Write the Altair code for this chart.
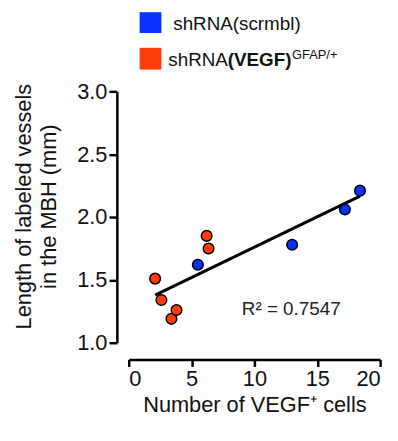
import altair as alt
import pandas as pd

# Data
scr_x = [5.5, 13.0, 17.2, 18.4]
scr_y = [1.62, 1.78, 2.06, 2.21]
vegf_x = [2.1, 2.6, 3.4, 3.8, 6.2, 6.35]
vegf_y = [1.51, 1.34, 1.19, 1.26, 1.85, 1.75]
groups = ["shRNA(scrmbl)", "shRNA(VEGF)GFAP/+"]
colors = ["#0A32FF", "#FF3C0A"]
r2_text = "R\u00b2 = 0.7547"

df = pd.DataFrame({
    "x": scr_x + vegf_x,
    "y": scr_y + vegf_y,
    "group": [groups[0]] * len(scr_x) + [groups[1]] * len(vegf_x),
})

FONT = "Liberation Sans"

xs = alt.Scale(domain=[0, 20], nice=False)
ys = alt.Scale(domain=[1, 3], nice=False)

x_axis = alt.Axis(
    values=[0, 5, 10, 15, 20], offset=17, tickSize=7, labelPadding=2,
    domainWidth=2.5, tickWidth=2.5, domainColor="black", tickColor="black",
    labelFontSize=22, labelColor="#111", labelFont=FONT, grid=False,
    title="Number of VEGF\u207a cells", titleFontSize=22, titleFont=FONT,
    titleFontWeight="normal", titleColor="#111", titleY=53, titleBaseline="alphabetic",
)
y_axis = alt.Axis(
    values=[1.0, 1.5, 2.0, 2.5, 3.0], format=".1f", offset=12, tickSize=8, labelPadding=2,
    domainWidth=2.5, tickWidth=2.5, domainColor="black", tickColor="black",
    labelFontSize=22, labelColor="#111", labelFont=FONT, grid=False,
    title=["Length of labeled vessels", "in the MBH (mm)"], titleFontSize=22,
    titleFont=FONT, titleFontWeight="normal", titleColor="#111", titleLineHeight=25,
    titleX=-82, titleY=116, titleAngle=270, titleAlign="center", titleBaseline="bottom",
)

base = alt.Chart(df)

reg = base.transform_regression("x", "y").mark_line(color="black", strokeWidth=3).encode(
    x=alt.X("x:Q", scale=xs, axis=x_axis),
    y=alt.Y("y:Q", scale=ys, axis=y_axis),
)

pts = base.mark_circle(size=115, opacity=1, stroke="black", strokeWidth=1.5).encode(
    x=alt.X("x:Q", scale=xs),
    y=alt.Y("y:Q", scale=ys),
    color=alt.Color("group:N", scale=alt.Scale(domain=groups, range=colors), legend=None),
)

r2 = alt.Chart(pd.DataFrame({"x": [9.0], "y": [1.22], "t": [r2_text]})).mark_text(
    align="left", baseline="alphabetic", fontSize=19, font=FONT, color="#222"
).encode(x=alt.X("x:Q", scale=xs), y=alt.Y("y:Q", scale=ys), text="t:N")

# Custom legend (rich text)
sq1 = alt.Chart(pd.DataFrame({"a": [0]})).mark_rect(color=colors[0]).encode(
    x=alt.value(11), x2=alt.value(33), y=alt.value(-80), y2=alt.value(-59))
sq2 = alt.Chart(pd.DataFrame({"a": [0]})).mark_rect(color=colors[1]).encode(
    x=alt.value(11), x2=alt.value(33), y=alt.value(-44), y2=alt.value(-22))

def txt(t, x, y, size=19, weight="normal"):
    return alt.Chart(pd.DataFrame({"a": [0]})).mark_text(
        align="left", baseline="alphabetic", fontSize=size, fontWeight=weight,
        font=FONT, color="#111"
    ).encode(x=alt.value(x), y=alt.value(y), text=alt.value(t))

l1 = txt("shRNA(scrmbl)", 45, -62)
l2a = txt("shRNA", 40, -26)
l2b = txt("(VEGF)", 100, -26, weight="bold")
l2c = txt("GFAP/+", 165, -33, size=13)

chart = alt.layer(reg, pts, r2, sq1, sq2, l1, l2a, l2b, l2c).properties(
    width=254, height=254,
    autosize=alt.AutoSizeParams(type="none"),
    padding={"left": 122, "top": 82, "right": 10, "bottom": 90},
    background="white",
).configure_view(stroke=None)

chart.save("out.html", embed_options={"renderer": "svg", "actions": False})
